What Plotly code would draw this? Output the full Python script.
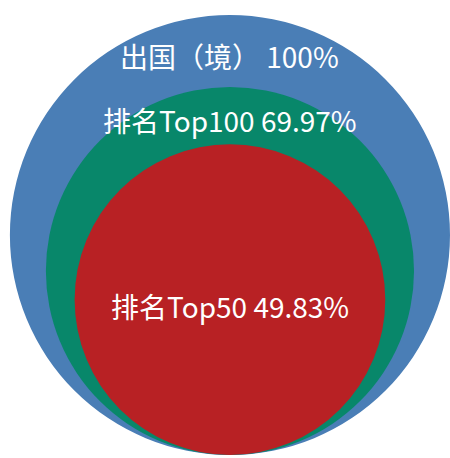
import math
import plotly.graph_objects as go

labels = ["出国（境）", "排名Top100", "排名Top50"]
shares = [100, 69.97, 49.83]
colors = ["#4A7EB6", "#08876A", "#B82124"]

# circle area proportional to share, all circles resting on the same bottom point
radii = [math.sqrt(v) for v in shares]
base_y = 0.0

fig = go.Figure()

for r, c in zip(radii, colors):
    fig.add_shape(
        type="circle",
        xref="x", yref="y",
        x0=-r, x1=r,
        y0=base_y, y1=base_y + 2 * r,
        fillcolor=c,
        line=dict(width=0),
        layer="below"
    )

# label offsets below each circle top (data units)
offsets = [1.85, 1.5, 7.35]
for name, v, r, off in zip(labels, shares, radii, offsets):
    txt = f"{name} {v:g}%" if v == 100 else f"{name} {v:.2f}%"
    fig.add_annotation(
        x=0, y=base_y + 2 * r - off,
        text=txt,
        showarrow=False,
        font=dict(family="Noto Sans CJK SC", size=28, color="white"),
        xanchor="center", yanchor="middle"
    )

fig.update_layout(
    width=450,
    height=458,
    margin=dict(l=0, r=0, t=0, b=0),
    paper_bgcolor="white",
    plot_bgcolor="white",
    showlegend=False,
    xaxis=dict(range=[-10.45, 10.0], visible=False),
    yaxis=dict(range=[-0.14, 20.68], visible=False)
)

fig.write_html(
    "out.html",
    config={"displayModeBar": False},
    post_script="document.body.style.margin='0';"
)
